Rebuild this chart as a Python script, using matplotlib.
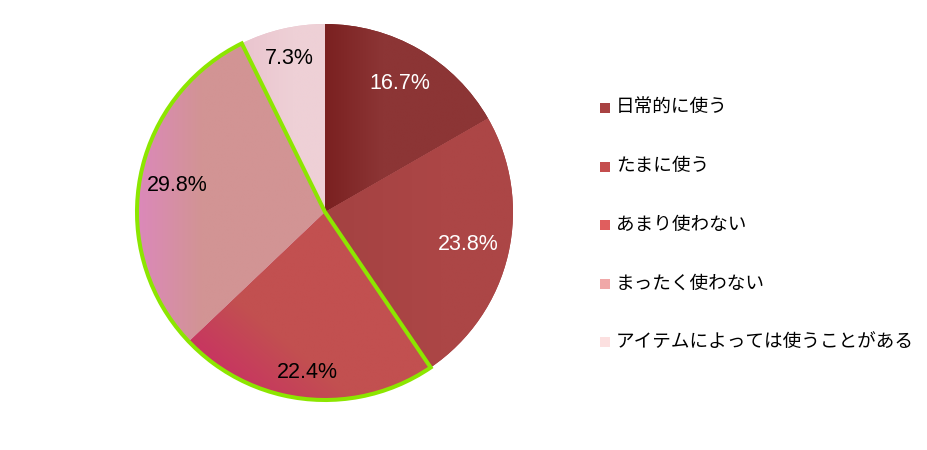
import numpy as np
import matplotlib
matplotlib.use("Agg")
import matplotlib.pyplot as plt
from matplotlib.patches import Wedge, Rectangle
from matplotlib.colors import to_rgb

plt.rcParams['font.family'] = ['Noto Sans CJK JP', 'DejaVu Sans']

# data
labels = ['日常的に使う', 'たまに使う', 'あまり使わない', 'まったく使わない',
          'アイテムによっては使うことがある']
values = [16.7, 23.8, 22.4, 29.8, 7.3]

# styles
legend_colors = ['#A84242', '#C44E4E', '#E05E5E', '#F0A8A8', '#FCE0E0']
# two colour gradient per wedge: (start, end, direction in degrees, spread)
wedge_grads = [('#7A2020', '#8C3535', 0, 0.35),
               ('#A44242', '#AC4646', 0, 0.6),
               ('#C83462', '#C25050', 50, 0.35),
               ('#DC88BC', '#D29494', 0, 0.35),
               ('#EAC4CE', '#EED0D6', 0, 0.6)]
pct_dist = [0.79, 0.78, 0.86, 0.80, 0.84]
pct_color = ['white', 'white', 'black', 'black', 'black']
highlight = [2, 3]

fig = plt.figure(figsize=(9.27, 4.5), dpi=100)
cx, cy, r = 325, 450 - 212, 188
ax = fig.add_axes([(cx - r) / 927, (cy - r) / 450, 2 * r / 927, 2 * r / 450])

wedges, _ = ax.pie(values, startangle=90, counterclock=False, radius=1,
                   colors=[g[0] for g in wedge_grads],
                   wedgeprops=dict(linewidth=0))

xx, yy = np.meshgrid(np.linspace(-1, 1, 500), np.linspace(-1, 1, 500))
for w, (c0, c1, ang, spread) in zip(wedges, wedge_grads):
    d = np.radians(ang)
    verts = w.get_patch_transform().transform(w.get_path().vertices)
    proj = verts[:, 0] * np.cos(d) + verts[:, 1] * np.sin(d)
    s = xx * np.cos(d) + yy * np.sin(d)
    s = np.clip((s - proj.min()) / (proj.max() - proj.min()), 0, 1)
    s = np.clip(s / spread, 0, 1)
    a, b = np.array(to_rgb(c0)), np.array(to_rgb(c1))
    img = a[None, None, :] * (1 - s[..., None]) + b[None, None, :] * s[..., None]
    im = ax.imshow(img, extent=[-1, 1, -1, 1], origin='lower', zorder=1.5,
                   interpolation='bilinear')
    im.set_clip_path(w)
ax.set_xlim(-1, 1)
ax.set_ylim(-1, 1)
ax.set_aspect('equal')
ax.axis('off')

# green outline around the highlighted group
th1 = min(wedges[i].theta1 for i in highlight)
th2 = max(wedges[i].theta2 for i in highlight)
ax.add_patch(Wedge((0, 0), 1, th1, th2, fill=False, edgecolor='#8CE600',
                   linewidth=2.9, zorder=3, clip_on=False))

# percent labels
for w, v, dist, col in zip(wedges, values, pct_dist, pct_color):
    mid = np.radians((w.theta1 + w.theta2) / 2)
    ax.text(dist * np.cos(mid), dist * np.sin(mid), f'{v:.1f}%',
            ha='center', va='center', fontsize=15.5, color=col,
            family='Liberation Sans', zorder=4)

# legend
lx, ly0, dy = 605, 108, 58.5
for i, (lab, col) in enumerate(zip(labels, legend_colors)):
    y = 450 - (ly0 + i * dy)
    fig.patches.append(Rectangle(((lx - 5) / 927, (y - 5) / 450), 10 / 927, 10 / 450,
                                 transform=fig.transFigure, facecolor=col,
                                 edgecolor='none'))
    fig.text(616 / 927, y / 450, lab, ha='left', va='center', fontsize=13.4,
             color='black')

fig.savefig('out.png', dpi=100)
